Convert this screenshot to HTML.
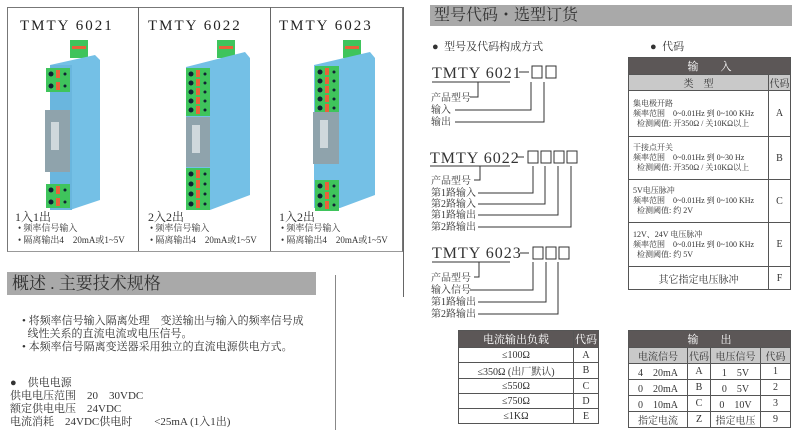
<!DOCTYPE html>
<html><head><meta charset="utf-8"><style>
body{margin:0;width:800px;height:430px;background:#fff;overflow:hidden;position:relative;font-family:"Liberation Serif","Noto Serif CJK SC",serif;color:#333}
.a{position:absolute;white-space:nowrap}
.t{font-size:15px;letter-spacing:2px;color:#222}
.s{font-size:11px;color:#333}
.bar{position:absolute;background:#a9a9a9;color:#333}
table{border-collapse:collapse;position:absolute;font-size:10px;color:#333}
td{border:1px solid #555;text-align:center;padding:0}
.h{background:#5c5757;color:#fff;font-size:11px}
.g{background:#c9c9c9}
</style></head><body>
<div class="a" style="left:7px;top:7px;width:394px;height:243px;border:1px solid #777;border-bottom:1px solid #999"></div>
<div class="a" style="left:138px;top:7px;width:1px;height:244px;background:#666"></div>
<div class="a" style="left:270px;top:7px;width:1px;height:244px;background:#666"></div>
<div class="a" style="left:403px;top:7px;width:1px;height:290px;background:#666"></div>
<div class="a t" style="left:20px;top:18px">TMTY 6021</div>
<div class="a t" style="left:148px;top:18px">TMTY 6022</div>
<div class="a t" style="left:279px;top:18px">TMTY 6023</div>
<svg class="a" style="left:0;top:0" width="400" height="250">
<defs><g id="term"><rect width="24" height="12" fill="#3fc45c"/><circle cx="5" cy="6" r="2.5" fill="#123"/><rect x="10" y="2" width="4" height="8" fill="#e8623a"/><circle cx="19" cy="6" r="1.5" fill="#123"/></g></defs>
<rect x="70" y="40" width="18" height="18" fill="#3fc45c"/><rect x="72" y="46" width="14" height="3" fill="#e8623a"/>
<polygon points="50,65 95,55 100,60 100,200 70,210 50,210" fill="#74c0e6"/>
<rect x="50" y="65" width="22" height="145" fill="#6ab6de"/>
<use href="#term" x="46" y="68"/><use href="#term" x="46" y="80"/>
<rect x="45" y="110" width="25" height="62" fill="#8fa3ac"/><rect x="51" y="122" width="8" height="28" fill="#cfd8dc"/>
<use href="#term" x="46" y="184"/><use href="#term" x="46" y="196"/>
<rect x="217" y="40" width="18" height="18" fill="#3fc45c"/><rect x="219" y="46" width="14" height="3" fill="#e8623a"/>
<polygon points="186,67 245,52 250,58 250,195 210,210 186,210" fill="#74c0e6"/>
<use href="#term" x="186" y="68"/><use href="#term" x="186" y="77"/><use href="#term" x="186" y="86"/><use href="#term" x="186" y="95"/><use href="#term" x="186" y="104"/>
<rect x="186" y="117" width="24" height="50" fill="#8fa3ac"/><rect x="192" y="125" width="8" height="28" fill="#cfd8dc"/>
<use href="#term" x="186" y="168"/><use href="#term" x="186" y="178"/><use href="#term" x="186" y="188"/><use href="#term" x="186" y="198"/>
<rect x="343" y="40" width="18" height="18" fill="#3fc45c"/><rect x="345" y="46" width="14" height="3" fill="#e8623a"/>
<polygon points="314,65 370,52 375,58 375,195 340,208 314,208" fill="#74c0e6"/>
<use href="#term" x="315" y="66"/><use href="#term" x="315" y="75"/><use href="#term" x="315" y="84"/><use href="#term" x="315" y="93"/><use href="#term" x="315" y="102"/>
<rect x="313" y="112" width="26" height="52" fill="#8fa3ac"/><rect x="320" y="120" width="8" height="28" fill="#cfd8dc"/>
<use href="#term" x="315" y="180"/><use href="#term" x="315" y="190"/><use href="#term" x="315" y="199"/>
</svg>
<div class="a" style="left:15px;top:208px;font-size:12px">1入1出</div>
<div class="a" style="left:148px;top:208px;font-size:12px">2入2出</div>
<div class="a" style="left:279px;top:208px;font-size:12px">1入2出</div>
<div class="a s" style="left:18px;top:222px;font-size:9px;line-height:12px">• 频率信号输入<br>• 隔离输出4　20mA或1~5V</div>
<div class="a s" style="left:150px;top:222px;font-size:9px;line-height:12px">• 频率信号输入<br>• 隔离输出4　20mA或1~5V</div>
<div class="a s" style="left:281px;top:222px;font-size:9px;line-height:12px">• 频率信号输入<br>• 隔离输出4　20mA或1~5V</div>

<div class="bar" style="left:7px;top:272px;width:309px;height:23px;font-size:17px;line-height:23px;padding-left:5px;box-sizing:border-box">概述 .  主要技术规格</div>
<div class="a" style="left:335px;top:275px;width:1px;height:155px;background:#888"></div>
<div class="a s" style="left:22px;top:315px;line-height:13px;font-size:11px">• 将频率信号输入隔离处理　变送输出与输入的频率信号成<br>&nbsp;&nbsp;线性关系的直流电流或电压信号。<br>• 本频率信号隔离变送器采用独立的直流电源供电方式。</div>
<div class="a s" style="left:10px;top:377px;line-height:13px;font-size:11px">●　供电电源<br>供电电压范围　20　30VDC<br>额定供电电压　24VDC<br>电流消耗　24VDC供电时　　&lt;25mA (1入1出)</div>

<div class="bar" style="left:430px;top:5px;width:362px;height:21px;font-size:16px;line-height:21px;padding-left:4px;box-sizing:border-box">型号代码・选型订货</div>
<div class="a s" style="left:432px;top:38px">●&nbsp; 型号及代码构成方式</div>
<div class="a s" style="left:650px;top:38px">●&nbsp; 代码</div>

<svg class="a" style="left:0;top:0" width="800" height="430" font-family="Liberation Serif,Noto Serif CJK SC,serif" fill="#333">
<g font-size="16" letter-spacing="1"><text x="432" y="78">TMTY 6021</text><text x="430" y="163">TMTY 6022</text><text x="432" y="258">TMTY 6023</text></g>
<g fill="none" stroke="#333" stroke-width="1">
<line x1="519" y1="72" x2="529" y2="72"/><line x1="516" y1="157" x2="524" y2="157"/><line x1="520" y1="253" x2="529" y2="253"/>
<rect x="532" y="66" width="10" height="12"/><rect x="546" y="66" width="10" height="12"/>
<line x1="432" y1="82" x2="510" y2="82"/>
<polyline points="478,82 478,97 470,97"/><polyline points="455,110 531,110 531,82"/><polyline points="455,122 544,122 544,82"/>
<rect x="528" y="151" width="10" height="12"/><rect x="541" y="151" width="10" height="12"/><rect x="554" y="151" width="10" height="12"/><rect x="567" y="151" width="10" height="12"/>
<line x1="430" y1="166" x2="510" y2="166"/>
<polyline points="480,166 480,180 474,180"/><polyline points="478,193 533,193 533,166"/><polyline points="478,204 545,204 545,166"/><polyline points="478,215 558,215 558,166"/><polyline points="478,227 571,227 571,166"/>
<rect x="533" y="247" width="10" height="12"/><rect x="546" y="247" width="10" height="12"/><rect x="559" y="247" width="10" height="12"/>
<line x1="432" y1="262" x2="510" y2="262"/>
<polyline points="479,262 479,277 474,277"/><polyline points="470,290 533,290 533,262"/><polyline points="478,302 546,302 546,262"/><polyline points="478,314 558,314 558,262"/>
</g>
<g font-size="10">
<text x="431" y="101">产品型号</text><text x="431" y="113">输入</text><text x="431" y="125">输出</text>
<text x="431" y="184">产品型号</text><text x="431" y="196">第1路输入</text><text x="431" y="207">第2路输入</text><text x="431" y="218">第1路输出</text><text x="431" y="230">第2路输出</text>
<text x="431" y="281">产品型号</text><text x="431" y="293">输入信号</text><text x="431" y="305">第1路输出</text><text x="431" y="317">第2路输出</text>
</g>
</svg>

<table style="left:628px;top:57px;width:163px">
<tr style="height:16px"><td class="h" colspan="2">输　　入</td></tr>
<tr style="height:15px" class="g"><td>类　型</td><td style="width:21px">代码</td></tr>
<tr style="height:46px"><td style="text-align:left;font-size:8px;line-height:10px;padding-left:4px">集电极开路<br>频率范围　0~0.01Hz 到 0~100 KHz<br>&nbsp;&nbsp;检测阈值: 开350Ω / 关10KΩ以上</td><td>A</td></tr>
<tr style="height:43px"><td style="text-align:left;font-size:8px;line-height:10px;padding-left:4px">干接点开关<br>频率范围　0~0.01Hz 到 0~30 Hz<br>&nbsp;&nbsp;检测阈值: 开350Ω / 关10KΩ以上</td><td>B</td></tr>
<tr style="height:43px"><td style="text-align:left;font-size:8px;line-height:10px;padding-left:4px">5V电压脉冲<br>频率范围　0~0.01Hz 到 0~100 KHz<br>&nbsp;&nbsp;检测阈值: 约 2V</td><td>C</td></tr>
<tr style="height:44px"><td style="text-align:left;font-size:8px;line-height:10px;padding-left:4px">12V、24V 电压脉冲<br>频率范围　0~0.01Hz 到 0~100 KHz<br>&nbsp;&nbsp;检测阈值: 约 5V</td><td>E</td></tr>
<tr style="height:23px"><td style="font-size:10px">其它指定电压脉冲</td><td>F</td></tr>
</table>

<table style="left:458px;top:330px;width:141px">
<tr style="height:15px"><td class="h">电流输出负载</td><td class="h" style="width:24px">代码</td></tr>
<tr style="height:15px"><td>≤100Ω</td><td>A</td></tr>
<tr style="height:15px"><td>≤350Ω (出厂默认)</td><td>B</td></tr>
<tr style="height:15px"><td>≤550Ω</td><td>C</td></tr>
<tr style="height:15px"><td>≤750Ω</td><td>D</td></tr>
<tr style="height:15px"><td>≤1KΩ</td><td>E</td></tr>
</table>

<table style="left:628px;top:330px;width:163px">
<tr style="height:14px"><td class="h" colspan="4">输　　出</td></tr>
<tr style="height:16px" class="g"><td style="width:58px">电流信号</td><td style="width:22px">代码</td><td style="width:49px">电压信号</td><td>代码</td></tr>
<tr style="height:15px"><td>4　20mA</td><td>A</td><td>1　5V</td><td>1</td></tr>
<tr style="height:15px"><td>0　20mA</td><td>B</td><td>0　5V</td><td>2</td></tr>
<tr style="height:15px"><td>0　10mA</td><td>C</td><td>0　10V</td><td>3</td></tr>
<tr style="height:15px"><td>指定电流</td><td>Z</td><td>指定电压</td><td>9</td></tr>
</table>
</body></html>
